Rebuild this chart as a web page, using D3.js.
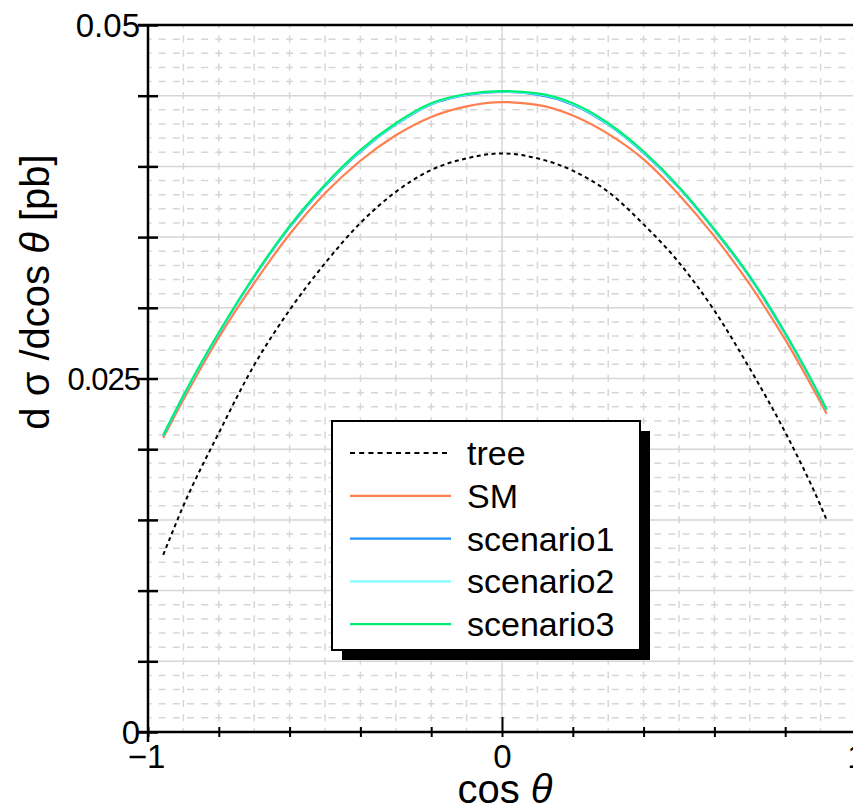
<!DOCTYPE html>
<meta charset="utf-8">

<!-- Load d3.js -->
<script src="https://d3js.org/d3.v7.min.js"></script>

<style>
  body { margin: 0; background: #fff; }
  text { font-family: "Liberation Sans", Arial, sans-serif; }
</style>

<!-- Create a div where the graph will take place -->
<div id="my_dataviz"></div>

<script>

  // data
  const cosTheta = [-0.957, -0.9, -0.8, -0.7, -0.6, -0.5, -0.4, -0.3, -0.2, -0.1, 0,
    0.1, 0.2, 0.3, 0.4, 0.5, 0.6, 0.7, 0.8, 0.9, 0.917];
  const tree = [0.01252, 0.01600, 0.02115, 0.02595, 0.02984, 0.03315, 0.03600, 0.03820, 0.03975, 0.04057, 0.04092,
    0.04057, 0.03970, 0.03820, 0.03590, 0.03320, 0.02980, 0.02570, 0.02120, 0.01600, 0.01500];
  const sm = [0.02080, 0.02350, 0.02790, 0.03175, 0.03520, 0.03810, 0.04040, 0.04220, 0.04350, 0.04425, 0.04455,
    0.04435, 0.04360, 0.04230, 0.04050, 0.03800, 0.03505, 0.03165, 0.02775, 0.02330, 0.02250];
  const scenario1 = [0.02095, 0.02373, 0.02818, 0.03218, 0.03570, 0.03862, 0.04105, 0.04295, 0.04438, 0.04505, 0.04527,
    0.04508, 0.04436, 0.04295, 0.04095, 0.03847, 0.03548, 0.03215, 0.02815, 0.02360, 0.02275];
  const scenario2 = [0.02098, 0.02376, 0.02822, 0.03222, 0.03575, 0.03866, 0.04110, 0.04300, 0.04442, 0.04509, 0.04530,
    0.04512, 0.04441, 0.04300, 0.04100, 0.03851, 0.03552, 0.03219, 0.02819, 0.02363, 0.02278];
  const scenario3 = [0.02100, 0.02380, 0.02825, 0.03225, 0.03578, 0.03870, 0.04115, 0.04305, 0.04446, 0.04512, 0.04533,
    0.04516, 0.04446, 0.04305, 0.04105, 0.03855, 0.03555, 0.03222, 0.02822, 0.02365, 0.02280];

  const seriesNames = ["tree", "SM", "scenario1", "scenario2", "scenario3"];
  const seriesValues = [tree, sm, scenario1, scenario2, scenario3];
  const seriesColors = ["#000000", "#ff7f50", "#1e90ff", "#80ffff", "#00ee76"];

  const yLabelTicks = [0, 0.025, 0.05];
  const xLabelTicks = [-1, 0, 1];

  const width = 853, height = 810;

  const svg = d3.select("#my_dataviz")
    .append("svg")
    .attr("width", width)
    .attr("height", height);

  const x = d3.scaleLinear().domain([-1, 1]).range([148, 856]);
  const y = d3.scaleLinear().domain([0, 0.05]).range([732, 25]);

  // grid: fine dashed lines, solid ones on the major steps
  const gridColor = "#d6d6d6";
  const hIdx = d3.range(1, 50);
  svg.append("g").selectAll("line")
    .data(hIdx)
    .join("line")
    .attr("x1", x(-1)).attr("x2", x(1))
    .attr("y1", d => y(d / 1000)).attr("y2", d => y(d / 1000))
    .attr("stroke", gridColor)
    .attr("stroke-width", 1.5)
    .attr("stroke-dasharray", d => d % 5 ? "7,7.16" : null)
    .attr("stroke-dashoffset", 3.5);

  const vIdx = d3.range(-9, 11);
  svg.append("g").selectAll("line")
    .data(vIdx)
    .join("line")
    .attr("x1", d => x(d / 10)).attr("x2", d => x(d / 10))
    .attr("y1", y(0.05)).attr("y2", y(0))
    .attr("stroke", gridColor)
    .attr("stroke-width", 1.5)
    .attr("stroke-dasharray", d => d % 10 ? "7,7.14" : null)
    .attr("stroke-dashoffset", 3.64);

  // curves
  const line = d3.line()
    .x((d, i) => x(cosTheta[i]))
    .y(d => y(d))
    .curve(d3.curveMonotoneX);

  svg.append("g").selectAll("path")
    .data(seriesValues)
    .join("path")
    .attr("d", d => line(d))
    .attr("fill", "none")
    .attr("stroke", (d, i) => seriesColors[i])
    .attr("stroke-width", (d, i) => i === 0 ? 2 : 2.2)
    .attr("stroke-dasharray", (d, i) => i === 0 ? "4,3.5" : null);

  // frame top
  svg.append("line")
    .attr("x1", 138).attr("x2", width)
    .attr("y1", y(0.05)).attr("y2", y(0.05))
    .attr("stroke", "black").attr("stroke-width", 2.5);

  // Y axis
  const yAxis = svg.append("g")
    .attr("transform", `translate(${x(-1)},0)`)
    .call(d3.axisLeft(y)
      .tickValues(d3.range(0, 11).map(i => i * 0.005))
      .tickSize(10)
      .tickFormat(d => yLabelTicks.some(t => Math.abs(t - d) < 1e-9) ? String(+d.toFixed(3)) : ""));
  yAxis.select(".domain").attr("d", `M0,${y(0.05)}V${y(0) + 10}`).attr("stroke-width", 2.5);
  yAxis.selectAll(".tick line").attr("x1", -10).attr("x2", 10).attr("stroke-width", 2.5);
  yAxis.selectAll(".tick text")
    .attr("x", -8)
    .attr("dy", "0.36em")
    .style("font-size", d => Math.abs(d - 0.025) < 1e-9 ? "31px" : "33px")
    .style("letter-spacing", d => Math.abs(d - 0.025) < 1e-9 ? "-1px" : null)
    .style("font-family", "'Liberation Sans', Arial, sans-serif")
    .attr("fill", "black");

  // X axis
  const xAxis = svg.append("g")
    .attr("transform", `translate(0,${y(0)})`)
    .call(d3.axisBottom(x)
      .tickValues(d3.range(-5, 6).map(i => i * 0.2))
      .tickSize(5)
      .tickFormat(d => xLabelTicks.some(t => Math.abs(t - d) < 1e-9) ? (Math.round(d) < 0 ? "\u2212" + Math.abs(Math.round(d)) : String(Math.round(d))) : ""));
  xAxis.select(".domain").attr("d", `M138,0H${width}`).attr("stroke-width", 2.5);
  xAxis.selectAll(".tick line")
    .attr("y1", d => Math.abs(d) < 1e-9 ? -15 : -5)
    .attr("y2", 5)
    .attr("stroke-width", 2);
  xAxis.selectAll(".tick text")
    .attr("y", 36)
    .attr("dy", 0)
    .attr("dx", d => d < -0.5 ? -2 : 0)
    .style("font-size", "33px")
    .style("font-family", "'Liberation Sans', Arial, sans-serif")
    .attr("fill", "black");

  // axis titles
  const xTitle = svg.append("text")
    .attr("x", 505).attr("y", 803)
    .attr("text-anchor", "middle")
    .style("font-size", "40px");
  xTitle.append("tspan").text("cos ");
  xTitle.append("tspan").style("font-style", "italic").text("\u03b8");

  const yTitle = svg.append("text")
    .attr("transform", "translate(49,292) rotate(-90)")
    .attr("text-anchor", "middle")
    .style("font-size", "40px");
  yTitle.append("tspan").text("d \u03c3 /dcos ");
  yTitle.append("tspan").style("font-style", "italic").text("\u03b8");
  yTitle.append("tspan").text(" [pb]");

  // legend
  const legend = svg.append("g");
  legend.append("rect")
    .attr("x", 342).attr("y", 431).attr("width", 308).attr("height", 229)
    .attr("fill", "black");
  legend.append("rect")
    .attr("x", 332).attr("y", 421).attr("width", 308).attr("height", 229)
    .attr("fill", "white").attr("stroke", "black").attr("stroke-width", 2);

  const rows = legend.selectAll("g.row")
    .data(seriesNames)
    .join("g")
    .attr("class", "row")
    .attr("transform", (d, i) => `translate(0,${453 + i * 42.8})`);
  rows.append("line")
    .attr("x1", 350).attr("x2", 451)
    .attr("stroke", (d, i) => seriesColors[i])
    .attr("stroke-width", 2.2)
    .attr("stroke-dasharray", (d, i) => i === 0 ? "5,4.2" : null);
  rows.append("text")
    .attr("x", 467).attr("y", 12)
    .style("font-size", "34px")
    .text(d => d);

</script>
